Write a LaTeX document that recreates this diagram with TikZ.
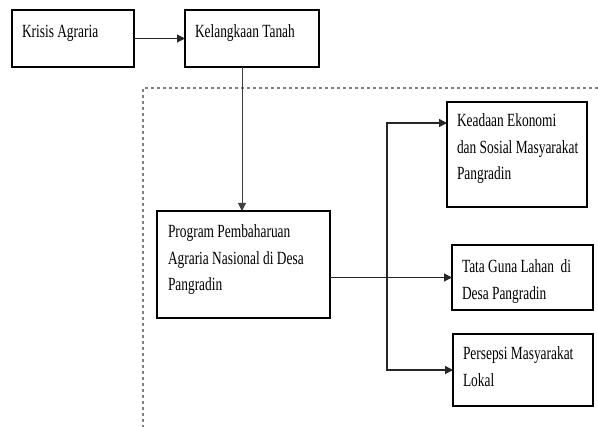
\documentclass[tikz,border=0pt]{standalone}
\usepackage{fontspec}
\setmainfont{Liberation Serif}[FakeStretch=0.72]
\usetikzlibrary{arrows.meta,calc}
\begin{document}
\begin{tikzpicture}[x=1pt,y=-1pt,
  box/.style={draw=black,line width=1.2pt,rectangle,inner sep=0pt,outer sep=0pt,anchor=north west},
  txt/.style={inner sep=0pt,outer sep=0pt,anchor=base west,font=\fontsize{18.6}{26.5}\selectfont},
  arr/.style={line width=1.2pt,draw=black!85,-{Triangle[length=8pt,width=8pt]}},
  arrboth/.style={line width=1.2pt,draw=black!85,{Triangle[length=8pt,width=8pt]}-{Triangle[length=8pt,width=8pt]}},
  dashline/.style={draw=black!50,line width=1.1pt,dash pattern=on 3.5pt off 2.5pt}]
\useasboundingbox (0,0) rectangle (598,427);
% frame
\coordinate (dr) at (598,88);
\coordinate (dc) at (143,88);
\coordinate (db) at (143,427);
\draw[dashline] (dr) -- (dc) -- (db);
% boxes
\node[box,minimum width=122pt,minimum height=57pt] (krisis) at (12,10) {};
\node[box,minimum width=134pt,minimum height=57pt] (kelangkaan) at (185,10) {};
\node[box,minimum width=173pt,minimum height=107pt] (program) at (157,211) {};
\node[box,minimum width=140pt,minimum height=105pt] (keadaan) at (447,102) {};
\node[box,minimum width=141pt,minimum height=65pt] (tata) at (452,245) {};
\node[box,minimum width=140pt,minimum height=72pt] (persepsi) at (453,334) {};
% texts
\node[txt] (tkrisis) at ($(krisis.north west)+(10,27.5)$) {Krisis Agraria};
\node[txt] (tkelangkaan) at ($(kelangkaan.north west)+(10,27.5)$) {Kelangkaan Tanah};
\node[txt] (tprogram) at ($(program.north west)+(11,27)$) {\parbox[t]{200pt}{\raggedright Program Pembaharuan\\Agraria Nasional di Desa\\Pangradin}};
\node[txt] (tkeadaan) at ($(keadaan.north west)+(10,25)$) {\parbox[t]{200pt}{\raggedright Keadaan Ekonomi\\dan Sosial Masyarakat\\Pangradin}};
\node[txt] (ttata) at ($(tata.north west)+(10,28)$) {\parbox[t]{200pt}{\raggedright Tata Guna Lahan\ \ di\\Desa Pangradin}};
\node[txt] (tpersepsi) at ($(persepsi.north west)+(10,26)$) {\parbox[t]{200pt}{\raggedright Persepsi Masyarakat\\Lokal}};
% connectors
\draw[arr] (krisis) -- (kelangkaan);
\coordinate (kd) at ($(kelangkaan.south west)+(57,0)$);
\draw[line width=0.9pt,draw=black!75,-{Triangle[length=8pt,width=8pt]}] (kd) -- (kd |- program.north);
\draw[arr] (tata.west -| program.east) -- (tata.west);
\coordinate (bx) at (387,0);
\coordinate (ka) at ($(keadaan.north west)+(0,21)$);
\draw[arrboth] (ka) -- (bx |- ka) -- (bx |- persepsi.west) -- (persepsi.west);
\end{tikzpicture}
\end{document}
